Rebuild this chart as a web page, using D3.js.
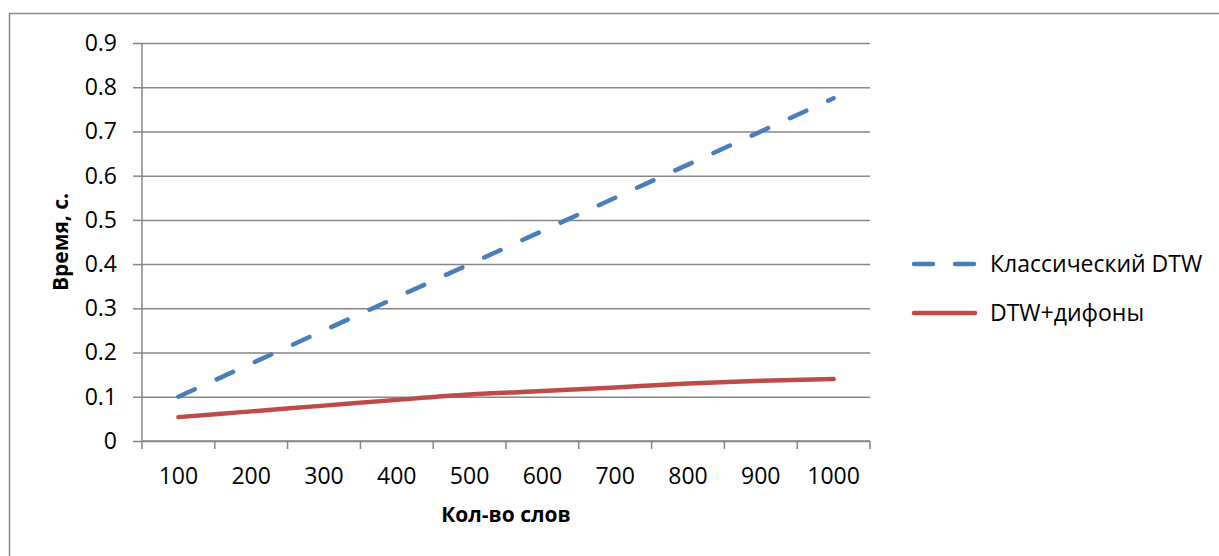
<!DOCTYPE html>
<html>
<head>
<meta charset="utf-8">
<script src="https://cdn.jsdelivr.net/npm/d3@7"></script>
<style>
  body { margin: 0; background: #fff; }
  svg { display: block; }
</style>
</head>
<body>
<script>
// DATA
const categories = ['100', '200', '300', '400', '500', '600', '700', '800', '900', '1000'];
const classicDTW = [0.1, 0.175, 0.25, 0.325, 0.4, 0.475, 0.55, 0.625, 0.7, 0.775];
const diphoneDTW = [0.054, 0.067, 0.08, 0.093, 0.105, 0.113, 0.121, 0.13, 0.136, 0.14];
const yTicks = [0, 0.1, 0.2, 0.3, 0.4, 0.5, 0.6, 0.7, 0.8, 0.9];
const seriesNames = ['Классический DTW', 'DTW+дифоны'];

// DEFS
const width = 1219;
const height = 556;
const plot = {left: 142, right: 870, top: 43, bottom: 441};
const gridColor = '#868686';
const blueColor = '#4A7EBB';
const redColor = '#BE4B48';
const font = '"Open Sans", "DejaVu Sans", sans-serif';
const fontSize = 23;

const svg = d3.select('body').append('svg')
    .attr('width', width)
    .attr('height', height);

// outer chart border (runs off the picture on the right and bottom)
svg.append('rect')
    .attr('x', 9.5)
    .attr('y', 13.5)
    .attr('width', width)
    .attr('height', height)
    .attr('fill', 'none')
    .attr('stroke', gridColor)
    .attr('stroke-width', 1.5);

// SCALES
const x = d3.scaleBand().domain(categories).range([plot.left, plot.right]);
const y = d3.scaleLinear().domain([0, 0.9]).range([plot.bottom, plot.top]);
const cx = d => x(d) + x.bandwidth() / 2;

// GRIDLINES + Y AXIS
const yAxis = svg.append('g')
    .attr('transform', `translate(${plot.left}, 0)`)
    .call(d3.axisLeft(y).tickValues(yTicks).tickSize(9).tickFormat(d3.format('')).tickPadding(16))
yAxis.select('.domain').remove();
yAxis.selectAll('.tick line').attr('stroke', gridColor).attr('stroke-width', 1.5);
yAxis.selectAll('.tick').append('line')
    .attr('x1', 0).attr('x2', plot.right - plot.left)
    .attr('stroke', gridColor).attr('stroke-width', 1.5);
yAxis.selectAll('.tick text')
    .style('font-family', font).style('font-size', fontSize + 'px').attr('fill', '#000');

svg.append('line')
    .attr('x1', plot.left).attr('x2', plot.left)
    .attr('y1', plot.top).attr('y2', plot.bottom)
    .attr('stroke', gridColor).attr('stroke-width', 1.5);

// X AXIS (ticks between categories)
const xAxisG = svg.append('g').attr('transform', `translate(0, ${plot.bottom})`);
xAxisG.append('line')
    .attr('x1', plot.left).attr('x2', plot.right)
    .attr('stroke', gridColor).attr('stroke-width', 1.5);
const boundaries = categories.map(c => x(c)).concat([plot.right]);
xAxisG.selectAll('.xtick').data(boundaries).enter().append('line')
    .attr('x1', d => d).attr('x2', d => d)
    .attr('y1', 0).attr('y2', 8)
    .attr('stroke', gridColor).attr('stroke-width', 1.5);
xAxisG.selectAll('.xlabel').data(categories).enter().append('text')
    .attr('x', d => cx(d))
    .attr('y', 43)
    .attr('text-anchor', 'middle')
    .style('font-family', font).style('font-size', fontSize + 'px')
    .text(d => d);

// AXIS TITLES
svg.append('text')
    .attr('transform', `translate(68, ${(plot.top + plot.bottom) / 2}) rotate(-90)`)
    .attr('text-anchor', 'middle')
    .style('font-family', font).style('font-size', '21px').style('font-weight', 'bold')
    .text('Время, с.');

svg.append('text')
    .attr('x', (plot.left + plot.right) / 2)
    .attr('y', 522)
    .attr('text-anchor', 'middle')
    .style('font-family', font).style('font-size', '21px').style('font-weight', 'bold')
    .text('Кол-во слов');

// LINES
const lineGen = d3.line().x((d, i) => cx(categories[i])).y(d => y(d));

svg.append('path')
    .datum(classicDTW)
    .attr('d', lineGen)
    .attr('fill', 'none')
    .attr('stroke', blueColor)
    .attr('stroke-width', 4.5)
    .attr('stroke-linecap', 'round')
    .attr('stroke-dasharray', '18,24');

svg.append('path')
    .datum(diphoneDTW)
    .attr('d', lineGen.curve(d3.curveMonotoneX))
    .attr('fill', 'none')
    .attr('stroke', redColor)
    .attr('stroke-width', 4.5)
    .attr('stroke-linecap', 'round');

// LEGEND
const legend = svg.append('g').attr('transform', 'translate(914, 0)');
const legendRows = [
    {name: seriesNames[0], color: blueColor, dash: '19,22', y: 264},
    {name: seriesNames[1], color: redColor, dash: null, y: 313}
];
legendRows.forEach(r => {
    legend.append('line')
        .attr('x1', 0).attr('x2', 61)
        .attr('y1', r.y).attr('y2', r.y)
        .attr('stroke', r.color)
        .attr('stroke-width', 4.5)
        .attr('stroke-linecap', 'round')
        .attr('stroke-dasharray', r.dash);
    legend.append('text')
        .attr('x', 76)
        .attr('y', r.y + 8)
        .style('font-family', font).style('font-size', fontSize + 'px')
        .text(r.name);
});
</script>
</body>
</html>
